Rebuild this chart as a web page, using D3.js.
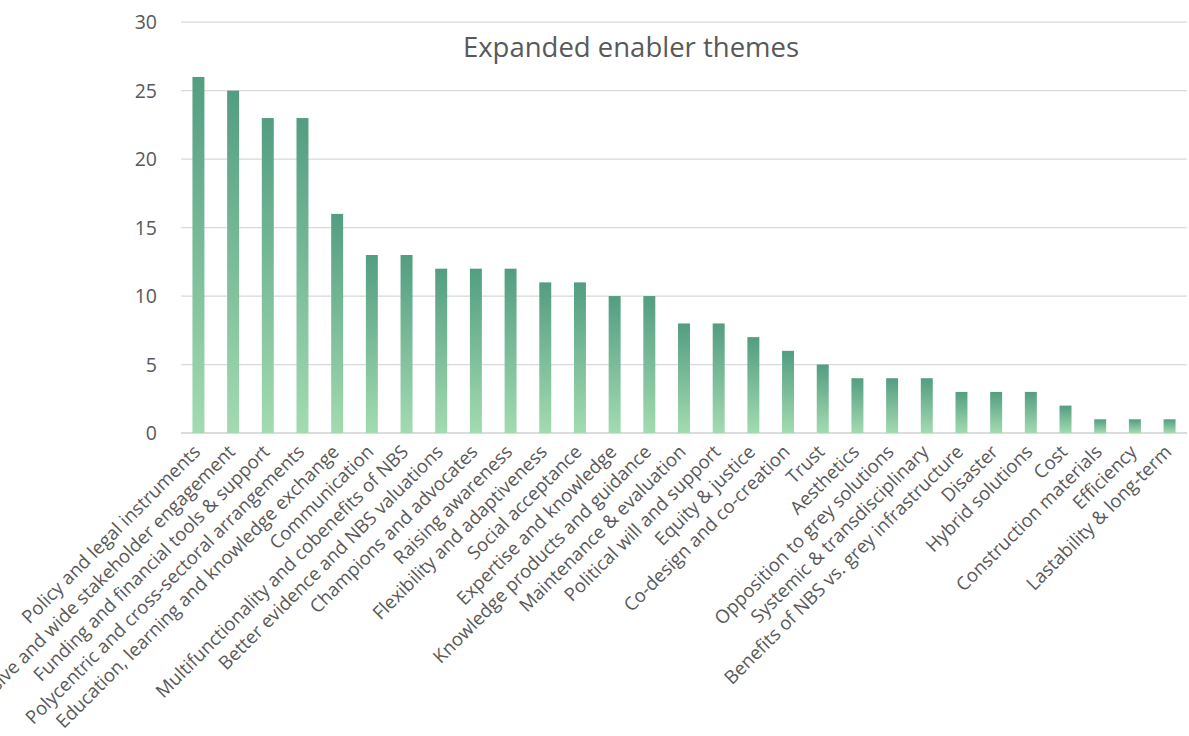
<!DOCTYPE html>
<html>
<head>
<meta charset="utf-8">
<script src="https://cdn.jsdelivr.net/npm/d3@7/dist/d3.min.js"></script>
<style>
  html, body { margin: 0; padding: 0; background: #fff; }
  svg { display: block; }
  text { font-family: "Open Sans", "Noto Sans", sans-serif; fill: #595959; }
</style>
</head>
<body>
<svg id="chart" width="1189" height="736"></svg>
<script>
const categories = [
  "Policy and legal instruments",
  "Inclusive and wide stakeholder engagement",
  "Funding and financial tools & support",
  "Polycentric and cross-sectoral arrangements",
  "Education, learning and knowledge exchange",
  "Communication",
  "Multifunctionality and cobenefits of NBS",
  "Better evidence and NBS valuations",
  "Champions and advocates",
  "Raising awareness",
  "Flexibility and adaptiveness",
  "Social acceptance",
  "Expertise and knowledge",
  "Knowledge products and guidance",
  "Maintenance & evaluation",
  "Political will and support",
  "Equity & justice",
  "Co-design and co-creation",
  "Trust",
  "Aesthetics",
  "Opposition to grey solutions",
  "Systemic & transdisciplinary",
  "Benefits of NBS vs. grey infrastructure",
  "Disaster",
  "Hybrid solutions",
  "Cost",
  "Construction materials",
  "Efficiency",
  "Lastability & long-term"
];
const counts = [26, 25, 23, 23, 16, 13, 13, 12, 12, 12, 11, 11, 10, 10, 8, 8, 7, 6, 5, 4, 4, 4, 3, 3, 3, 2, 1, 1, 1];
const yTicks = [0, 5, 10, 15, 20, 25, 30];
const title = "Expanded enabler themes";

const svg = d3.select("#chart");
const plotLeft = 181, plotRight = 1187, plotTop = 22.2, plotBottom = 433;

const x = d3.scaleBand()
  .domain(categories)
  .range([plotLeft, plotRight])
  .paddingInner(0.655)
  .paddingOuter(0.33);

const y = d3.scaleLinear().domain([0, 30]).range([plotBottom, plotTop]);

// per-bar vertical gradient: dark green at the top, light green at the base
const defs = svg.append("defs");
const grad = defs.append("linearGradient")
  .attr("id", "barFill")
  .attr("x1", 0).attr("y1", 0).attr("x2", 0).attr("y2", 1);
grad.append("stop").attr("offset", "0%").attr("stop-color", "#539d81");
grad.append("stop").attr("offset", "100%").attr("stop-color", "#a3dbb0");

// horizontal gridlines
svg.append("g")
  .selectAll("line")
  .data(yTicks)
  .join("line")
  .attr("x1", plotLeft).attr("x2", plotRight)
  .attr("y1", d => y(d)).attr("y2", d => y(d))
  .attr("stroke", d => d === 0 ? "#d0d0d0" : "#d9d9d9")
  .attr("stroke-width", d => d === 0 ? 1.5 : 1.2);

// y tick labels
svg.append("g")
  .selectAll("text")
  .data(yTicks)
  .join("text")
  .attr("x", 157)
  .attr("y", d => y(d))
  .attr("dy", "0.36em")
  .attr("text-anchor", "end")
  .attr("font-size", 19.5)
  .text(d => d);

// title
svg.append("text")
  .attr("x", 631)
  .attr("y", 57)
  .attr("text-anchor", "middle")
  .attr("font-size", 27.5)
  .text(title);

// bars
svg.append("g")
  .selectAll("rect")
  .data(categories)
  .join("rect")
  .attr("x", d => x(d))
  .attr("width", x.bandwidth())
  .attr("y", (d, i) => y(counts[i]))
  .attr("height", (d, i) => y(0) - y(counts[i]))
  .attr("fill", "url(#barFill)");

// rotated category labels
svg.append("g")
  .selectAll("text")
  .data(categories)
  .join("text")
  .attr("text-anchor", "end")
  .attr("font-size", 18.6)
  .attr("transform", d => `translate(${x(d) + x.bandwidth() / 2 + 3},${plotBottom + 20}) rotate(-45)`)
  .text(d => d);
</script>
</body>
</html>
